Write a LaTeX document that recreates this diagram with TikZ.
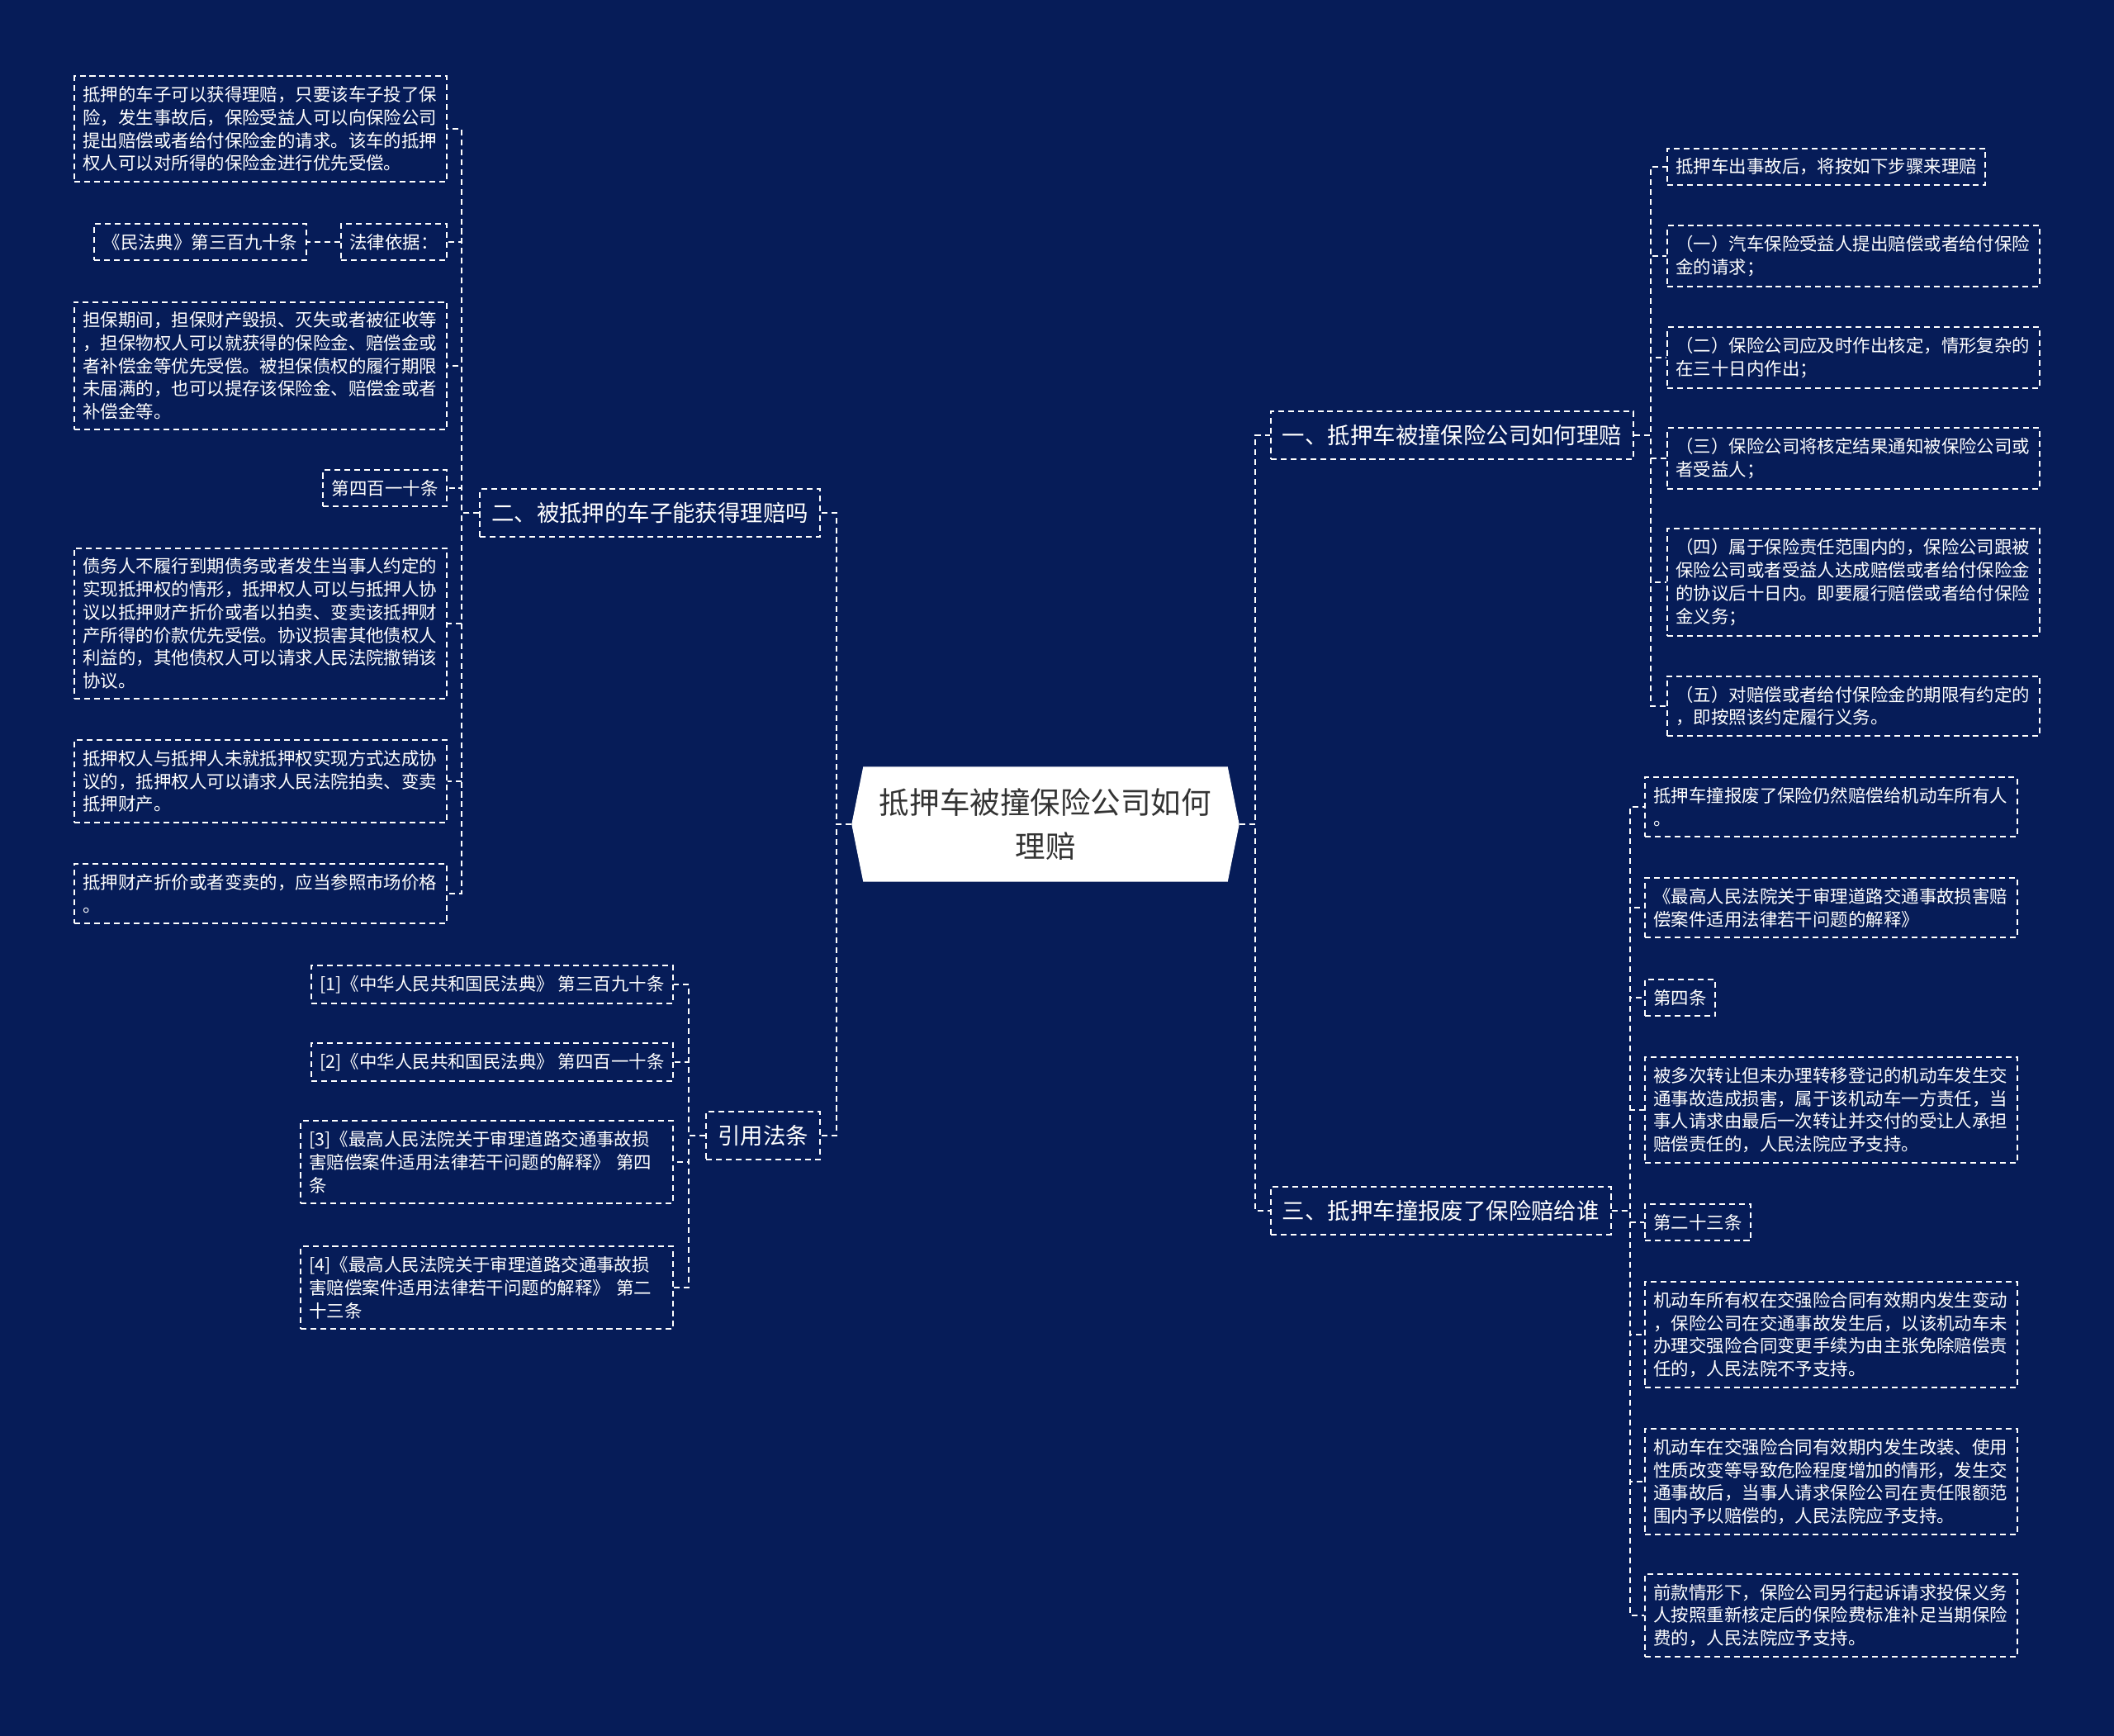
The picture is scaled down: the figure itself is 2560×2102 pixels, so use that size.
\documentclass[tikz,border=0pt]{standalone}
\usepackage{fontspec}
\setmainfont{Noto Sans CJK SC}
\usetikzlibrary{positioning,backgrounds}
\definecolor{navy}{HTML}{061C58}
\definecolor{rootink}{HTML}{333333}

\begin{document}
\begin{tikzpicture}[x=0.1mm,y=-0.1mm,
  link/.style={draw=white,line width=0.55pt,dash pattern=on 2pt off 1.4pt},
  leaf/.style={link,text=white,align=left,inner xsep=1.05mm,inner ysep=1.2mm,font=\fontsize{6.1}{7.9}\selectfont},
  wide/.style={leaf,text width=43mm},
  branch/.style={leaf,inner xsep=1.4mm,inner ysep=1.6mm,font=\fontsize{7.8}{9.5}\selectfont},
  hub/.style={minimum width=46.8mm,minimum height=13.8mm,text=rootink,align=center,font=\fontsize{10.4}{14.8}\selectfont}]
\useasboundingbox (0,0) rectangle (2560,2102);

\node[hub] (root) at (1266,998) {抵押车被撞保险公司如何\\理赔};

% right side
\node[branch,anchor=west] (q1) at (1538,527) {一、抵押车被撞保险公司如何理赔};
\node[branch,anchor=west] (q3) at (1538,1466) {三、抵押车撞报废了保险赔给谁};

\node[leaf,anchor=west] (s0) at (2018,202) {抵押车出事故后，将按如下步骤来理赔};
\node[wide,anchor=west] (s1) at (2018,310) {（一）汽车保险受益人提出赔偿或者给付保险\\金的请求；};
\node[wide,anchor=west] (s2) at (2018,433) {（二）保险公司应及时作出核定，情形复杂的\\在三十日内作出；};
\node[wide,anchor=west] (s3) at (2018,555) {（三）保险公司将核定结果通知被保险公司或\\者受益人；};
\node[wide,anchor=west] (s4) at (2018,705) {（四）属于保险责任范围内的，保险公司跟被\\保险公司或者受益人达成赔偿或者给付保险金\\的协议后十日内。即要履行赔偿或者给付保险\\金义务；};
\node[wide,anchor=west] (s5) at (2018,855) {（五）对赔偿或者给付保险金的期限有约定的\\，即按照该约定履行义务。};

\node[wide,anchor=west] (w1) at (1991,977) {抵押车撞报废了保险仍然赔偿给机动车所有人\\。};
\node[wide,anchor=west] (w2) at (1991,1099) {《最高人民法院关于审理道路交通事故损害赔\\偿案件适用法律若干问题的解释》};
\node[leaf,anchor=west] (w3) at (1991,1208) {第四条};
\node[wide,anchor=west] (w4) at (1991,1344) {被多次转让但未办理转移登记的机动车发生交\\通事故造成损害，属于该机动车一方责任，当\\事人请求由最后一次转让并交付的受让人承担\\赔偿责任的，人民法院应予支持。};
\node[leaf,anchor=west] (w5) at (1991,1480) {第二十三条};
\node[wide,anchor=west] (w6) at (1991,1616) {机动车所有权在交强险合同有效期内发生变动\\，保险公司在交通事故发生后，以该机动车未\\办理交强险合同变更手续为由主张免除赔偿责\\任的，人民法院不予支持。};
\node[wide,anchor=west] (w7) at (1991,1794) {机动车在交强险合同有效期内发生改装、使用\\性质改变等导致危险程度增加的情形，发生交\\通事故后，当事人请求保险公司在责任限额范\\围内予以赔偿的，人民法院应予支持。};
\node[wide,anchor=west] (w8) at (1991,1956) {前款情形下，保险公司另行起诉请求投保义务\\人按照重新核定后的保险费标准补足当期保险\\费的，人民法院应予支持。};

% left side
\node[branch,anchor=east] (q2) at (994,621) {二、被抵押的车子能获得理赔吗};
\node[branch,anchor=east] (refs) at (994,1375) {引用法条};

\node[wide,anchor=east] (p1) at (542,156) {抵押的车子可以获得理赔，只要该车子投了保\\险，发生事故后，保险受益人可以向保险公司\\提出赔偿或者给付保险金的请求。该车的抵押\\权人可以对所得的保险金进行优先受偿。};
\node[leaf,anchor=east] (basis) at (542,293) {法律依据：};
\node[leaf,left=4mm of basis] (civ) {《民法典》第三百九十条};
\node[wide,anchor=east] (p3) at (542,443) {担保期间，担保财产毁损、灭失或者被征收等\\，担保物权人可以就获得的保险金、赔偿金或\\者补偿金等优先受偿。被担保债权的履行期限\\未届满的，也可以提存该保险金、赔偿金或者\\补偿金等。};
\node[leaf,anchor=east] (p4) at (542,591) {第四百一十条};
\node[wide,anchor=east] (p5) at (542,755) {债务人不履行到期债务或者发生当事人约定的\\实现抵押权的情形，抵押权人可以与抵押人协\\议以抵押财产折价或者以拍卖、变卖该抵押财\\产所得的价款优先受偿。协议损害其他债权人\\利益的，其他债权人可以请求人民法院撤销该\\协议。};
\node[wide,anchor=east] (p6) at (542,946) {抵押权人与抵押人未就抵押权实现方式达成协\\议的，抵押权人可以请求人民法院拍卖、变卖\\抵押财产。};
\node[wide,anchor=east] (p7) at (542,1082) {抵押财产折价或者变卖的，应当参照市场价格\\。};

\node[leaf,anchor=east] (r1) at (816,1192) {[1]《中华人民共和国民法典》 第三百九十条};
\node[leaf,anchor=east] (r2) at (816,1286) {[2]《中华人民共和国民法典》 第四百一十条};
\node[wide,anchor=east] (r3) at (816,1407) {[3]《最高人民法院关于审理道路交通事故损\\害赔偿案件适用法律若干问题的解释》 第四\\条};
\node[wide,anchor=east] (r4) at (816,1559) {[4]《最高人民法院关于审理道路交通事故损\\害赔偿案件适用法律若干问题的解释》 第二\\十三条};

% connectors
\draw[link] (root.west) -- ++(-18,0) |- (q2.east);
\draw[link] (root.west) -- ++(-18,0) |- (refs.east);
\draw[link] (root.east) -- ++(19,0) |- (q1.west);
\draw[link] (root.east) -- ++(19,0) |- (q3.west);
\foreach \n in {s0,s1,s2,s3,s4,s5} \draw[link] (q1.east) -- ++(20,0) |- (\n.west);
\foreach \n in {w1,w2,w3,w4,w5,w6,w7,w8} \draw[link] (q3.east) -- ++(22,0) |- (\n.west);
\foreach \n in {p1,basis,p3,p4,p5,p6,p7} \draw[link] (q2.west) -- ++(-21,0) |- (\n.east);
\foreach \n in {r1,r2,r3,r4} \draw[link] (refs.west) -- ++(-20,0) |- (\n.east);
\draw[link] (basis.west) -- (civ.east);

\begin{scope}[on background layer]
\fill[navy] (0,0) rectangle (2560,2102);
\fill[white] ([xshift=1.4mm]root.north west) -- ([xshift=-1.4mm]root.north east) -- (root.east)
  -- ([xshift=-1.4mm]root.south east) -- ([xshift=1.4mm]root.south west) -- (root.west) -- cycle;
\end{scope}
\end{tikzpicture}
\end{document}
